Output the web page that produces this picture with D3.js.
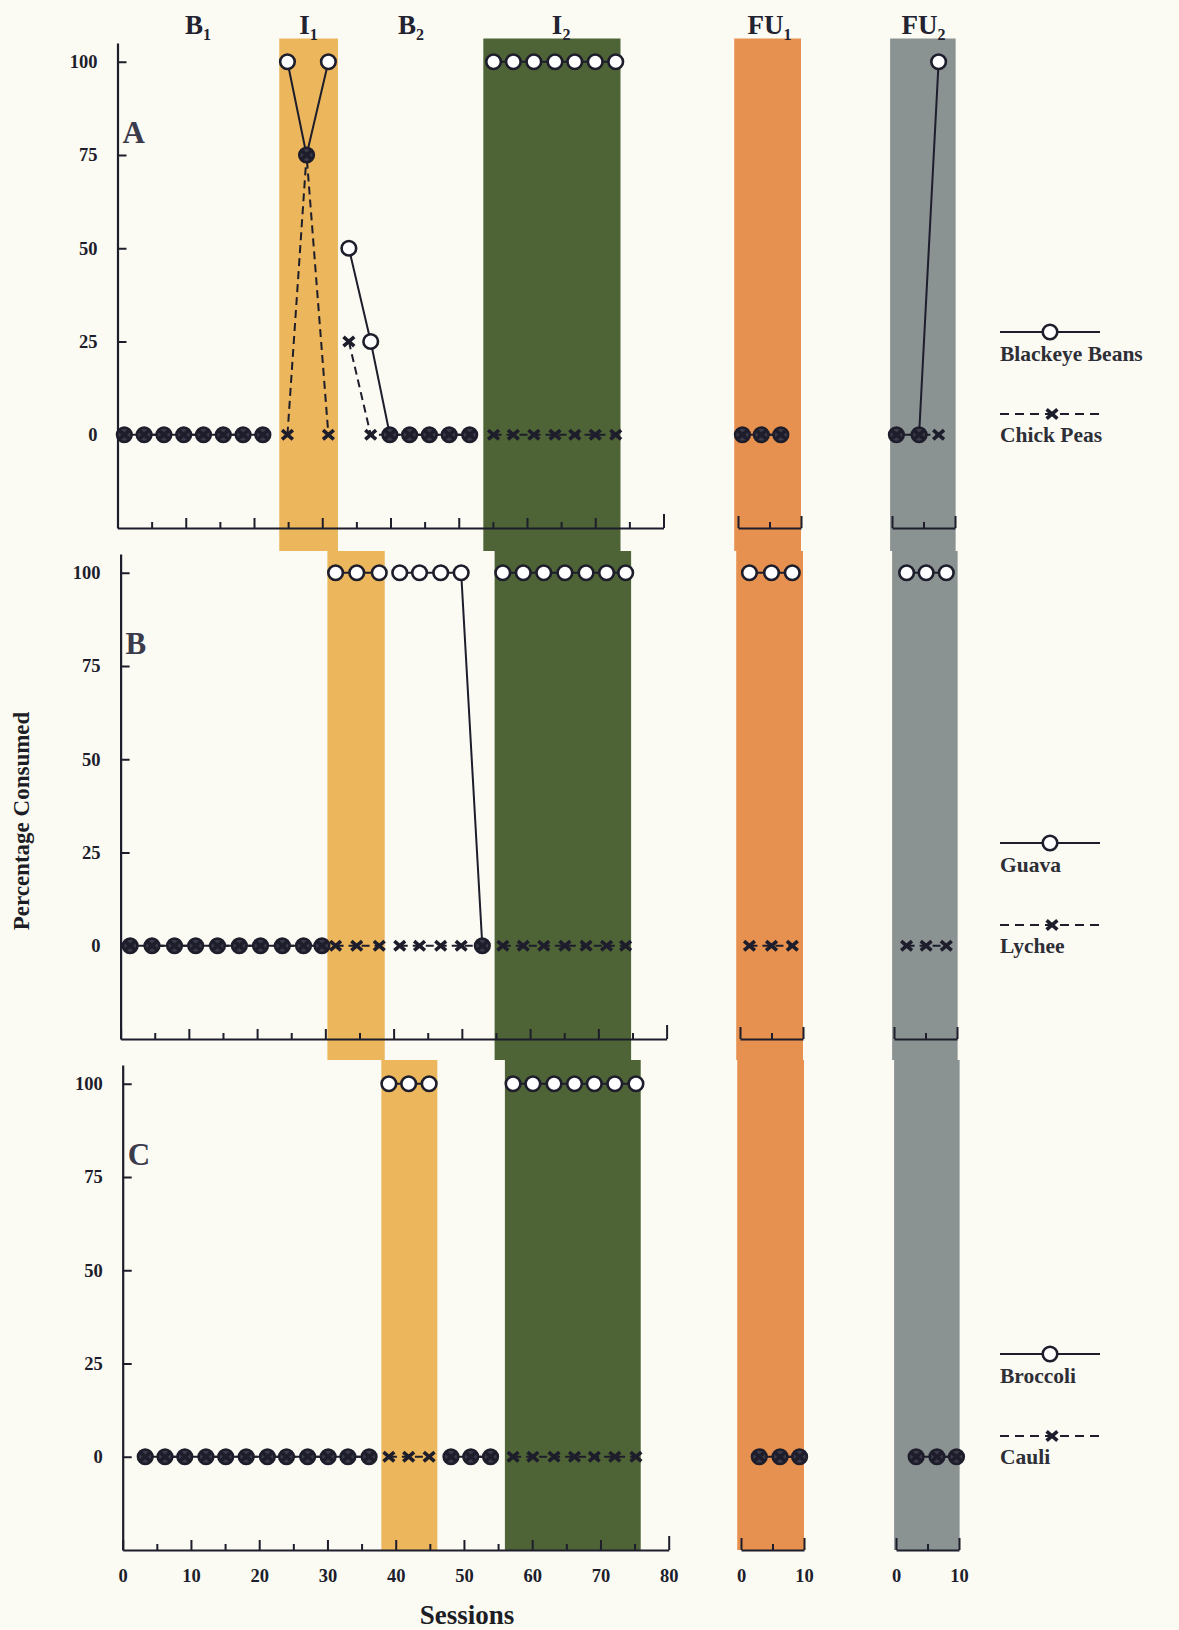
<!DOCTYPE html>
<html><head><meta charset="utf-8">
<script src="https://cdn.jsdelivr.net/npm/d3@7"></script>
<style>
html,body{margin:0;padding:0;background:#fbfbf4;}
svg{display:block;}
text{font-family:"Liberation Serif","Times New Roman",serif;font-weight:bold;}
</style></head><body>
<div id="chart"></div>
<script>
// Phases in the order they appear; each panel lists how many sessions fall in each phase.
const phaseOrder = ["B1", "I1", "B2", "I2", "FU1", "FU2"];
const phaseTitles = [["B", "1"], ["I", "1"], ["B", "2"], ["I", "2"], ["FU", "1"], ["FU", "2"]];
const phaseTitleAt = [11.8, 28.0, 43.0, 65.0, 5.0, 5.0];

// Panel A: Blackeye Beans (circles) and Chick Peas (crosses)
const countsA   = [8, 3, 7, 7, 3, 3];
const sessionsA = [1.0, 3.9, 6.8, 9.7, 12.6, 15.5, 18.4, 21.3,
                   24.9, 27.7, 30.9,
                   33.9, 37.1, 39.9, 42.8, 45.7, 48.6, 51.6,
                   55.1, 58.0, 61.0, 64.1, 67.0, 70.0, 73.0,
                   0.7, 3.7, 6.8,
                   0.7, 4.3, 7.4];
const beansA    = [0, 0, 0, 0, 0, 0, 0, 0,
                   100, 75, 100,
                   50, 25, 0, 0, 0, 0, 0,
                   100, 100, 100, 100, 100, 100, 100,
                   0, 0, 0,
                   0, 0, 100];
const chickA    = [0, 0, 0, 0, 0, 0, 0, 0,
                   0, 75, 0,
                   25, 0, 0, 0, 0, 0, 0,
                   0, 0, 0, 0, 0, 0, 0,
                   0, 0, 0,
                   0, 0, 0];
const shadeA    = [[23.7, 32.3], [53.6, 73.7]];

// Panel B: Guava (circles) and Lychee (crosses)
const countsB   = [10, 3, 5, 7, 3, 3];
const sessionsB = [1.4, 4.6, 7.9, 11.0, 14.2, 17.4, 20.5, 23.7, 26.8, 29.5,
                   31.5, 34.6, 37.9,
                   40.9, 43.8, 46.9, 49.9, 53.0,
                   56.0, 59.0, 62.0, 65.1, 68.2, 71.2, 74.0,
                   1.5, 5.0, 8.3,
                   2.0, 5.1, 8.3];
const guavaB    = [0, 0, 0, 0, 0, 0, 0, 0, 0, 0,
                   100, 100, 100,
                   100, 100, 100, 100, 0,
                   100, 100, 100, 100, 100, 100, 100,
                   100, 100, 100,
                   100, 100, 100];
const lycheeB   = [0, 0, 0, 0, 0, 0, 0, 0, 0, 0,
                   0, 0, 0,
                   0, 0, 0, 0, 0,
                   0, 0, 0, 0, 0, 0, 0,
                   0, 0, 0,
                   0, 0, 0];
const shadeB    = [[30.3, 38.7], [54.8, 74.8]];

// Panel C: Broccoli (circles) and Cauli (crosses)
const countsC   = [12, 3, 3, 7, 3, 3];
const sessionsC = [3.3, 6.2, 9.1, 12.2, 15.1, 18.1, 21.2, 24.0, 27.1, 30.1, 33.0, 36.1,
                   39.0, 41.9, 44.9,
                   48.1, 51.0, 53.9,
                   57.2, 60.1, 63.2, 66.2, 69.1, 72.1, 75.2,
                   2.9, 6.2, 9.3,
                   3.2, 6.5, 9.6];
const broccoliC = [0, 0, 0, 0, 0, 0, 0, 0, 0, 0, 0, 0,
                   100, 100, 100,
                   0, 0, 0,
                   100, 100, 100, 100, 100, 100, 100,
                   0, 0, 0,
                   0, 0, 0];
const cauliC    = [0, 0, 0, 0, 0, 0, 0, 0, 0, 0, 0, 0,
                   0, 0, 0,
                   0, 0, 0,
                   0, 0, 0, 0, 0, 0, 0,
                   0, 0, 0,
                   0, 0, 0];
const shadeC    = [[37.9, 46.1], [56.0, 75.9]];

// Follow-up shading spans on the short 0-10 session axes
const shadeFU1 = [-0.6, 10.0];
const shadeFU2 = [-0.3, 10.1];

const yTicks = [0, 25, 50, 75, 100];

// ---------------------------------------------------------------
const W = 1179, H = 1630;
const ink = "#1d1d2b";
const colors = { I1: "#ebb65c", I2: "#4f6436", FU1: "#e6914f", FU2: "#8b9292" };
const crossPath = "M-5.4,-4.6L5.4,4.6M-5.4,4.6L5.4,-4.6";

const panels = [
  { letter: "A", counts: countsA, sessions: sessionsA, circle: beansA, cross: chickA,
    circleName: "Blackeye Beans", crossName: "Chick Peas", shade: shadeA,
    axisY: 528, x0: 117.5, fu1: 738, fu2: 892, bandTop: 38.5, bandBottom: 551, labels: false },
  { letter: "B", counts: countsB, sessions: sessionsB, circle: guavaB, cross: lycheeB,
    circleName: "Guava", crossName: "Lychee", shade: shadeB,
    axisY: 1039, x0: 120.6, fu1: 740, fu2: 894, bandTop: 551, bandBottom: 1060, labels: false },
  { letter: "C", counts: countsC, sessions: sessionsC, circle: broccoliC, cross: cauliC,
    circleName: "Broccoli", crossName: "Cauli", shade: shadeC,
    axisY: 1550, x0: 122.7, fu1: 741, fu2: 896, bandTop: 1060, bandBottom: 1550, labels: true }
];

const svg = d3.select("#chart").append("svg").attr("width", W).attr("height", H);
svg.append("rect").attr("width", W).attr("height", H).attr("fill", "#fbfbf4");

panels.forEach(p => {
  p.x = d3.scaleLinear().domain([0, 80]).range([p.x0, p.x0 + 546]);
  p.xFU1 = d3.scaleLinear().domain([0, 10]).range([p.fu1, p.fu1 + 63]);
  p.xFU2 = d3.scaleLinear().domain([0, 10]).range([p.fu2, p.fu2 + 63]);
  p.y = d3.scaleLinear().domain([-25, 105]).range([p.axisY, p.axisY - 130 * 3.73]);
  p.scaleFor = ph => ph === "FU1" ? p.xFU1 : ph === "FU2" ? p.xFU2 : p.x;
  // expand phase counts into per-phase point lists
  p.groups = [];
  let k = 0;
  p.counts.forEach((n, i) => {
    const pts = d3.range(k, k + n).map(j => ({ s: p.sessions[j], c: p.circle[j], x: p.cross[j] }));
    p.groups.push({ phase: phaseOrder[i], pts });
    k += n;
  });
});

// Shaded phase bands (drawn first so axes and data sit on top)
const bands = svg.append("g");
panels.forEach(p => {
  const h = p.bandBottom - p.bandTop;
  bands.append("rect").attr("x", p.x(p.shade[0][0])).attr("width", p.x(p.shade[0][1]) - p.x(p.shade[0][0]))
    .attr("y", p.bandTop).attr("height", h).attr("fill", colors.I1);
  bands.append("rect").attr("x", p.x(p.shade[1][0])).attr("width", p.x(p.shade[1][1]) - p.x(p.shade[1][0]))
    .attr("y", p.bandTop).attr("height", h).attr("fill", colors.I2);
  bands.append("rect").attr("x", p.xFU1(shadeFU1[0])).attr("width", p.xFU1(shadeFU1[1]) - p.xFU1(shadeFU1[0]))
    .attr("y", p.bandTop).attr("height", h).attr("fill", colors.FU1);
  bands.append("rect").attr("x", p.xFU2(shadeFU2[0])).attr("width", p.xFU2(shadeFU2[1]) - p.xFU2(shadeFU2[0]))
    .attr("y", p.bandTop).attr("height", h).attr("fill", colors.FU2);
});

function styleAxis(g) {
  g.attr("color", ink);
  g.select(".domain").attr("stroke-width", 2.2);
  g.selectAll(".tick line").attr("stroke-width", 2);
  g.selectAll(".tick text").attr("font-size", 18.5).attr("font-family", null);
}

panels.forEach(p => {
  const g = svg.append("g");

  // y axis: ticks point inward, labels on the left
  g.append("g").attr("transform", `translate(${p.x0},0)`)
    .call(d3.axisLeft(p.y).tickValues(yTicks).tickSize(-9).tickSizeOuter(0).tickPadding(20))
    .call(styleAxis);

  // main session axis 0-80, major ticks every 10 and minor every 5
  const gx = g.append("g").attr("transform", `translate(0,${p.axisY})`)
    .call(d3.axisBottom(p.x).tickValues(d3.range(0, 81, 5)).tickSize(-10).tickSizeOuter(0).tickPadding(19)
      .tickFormat(d => p.labels && d % 10 === 0 ? d : ""))
    .call(styleAxis);
  gx.selectAll(".tick line").attr("y2", d => d === 80 ? -14 : d % 10 === 0 ? -10 : -6);

  // follow-up axes 0-10
  [p.xFU1, p.xFU2].forEach(sc => {
    const ga = g.append("g").attr("transform", `translate(0,${p.axisY})`)
      .call(d3.axisBottom(sc).tickValues([0, 5, 10]).tickSize(-12).tickSizeOuter(0).tickPadding(19)
        .tickFormat(d => p.labels && d !== 5 ? d : ""))
      .call(styleAxis);
    ga.selectAll(".tick line").attr("y2", d => d === 5 ? -6 : -12);
  });

  // panel letter
  g.append("text").attr("x", p.x0 + 5).attr("y", p.y(75) - 12).attr("font-size", 31)
    .attr("fill", "#3b3b4c").text(p.letter);

  // data: lines are broken at every phase change
  const dataG = g.append("g");
  p.groups.forEach(grp => {
    const xs = p.scaleFor(grp.phase);
    const lineC = d3.line().x(d => xs(d.s)).y(d => p.y(d.c));
    const lineX = d3.line().x(d => xs(d.s)).y(d => p.y(d.x));
    dataG.append("path").attr("d", lineX(grp.pts)).attr("fill", "none").attr("stroke", ink)
      .attr("stroke-width", 2).attr("stroke-dasharray", "8,5");
    dataG.append("path").attr("d", lineC(grp.pts)).attr("fill", "none").attr("stroke", ink)
      .attr("stroke-width", 2);
    // where both foods share a value the cross sits inside the circle and the marker reads as solid
    dataG.selectAll(null).data(grp.pts).join("circle")
      .attr("cx", d => xs(d.s)).attr("cy", d => p.y(d.c)).attr("r", 7.3)
      .attr("fill", d => d.c === d.x ? "#3a3a48" : "#ffffff")
      .attr("stroke", ink).attr("stroke-width", 2.6);
    dataG.selectAll(null).data(grp.pts).join("path")
      .attr("transform", d => `translate(${xs(d.s)},${p.y(d.x)})`)
      .attr("d", crossPath)
      .attr("stroke", ink).attr("stroke-width", 3.6).attr("fill", "none");
  });

  // legend
  const lg = g.append("g").attr("transform", `translate(1000,${p.axisY})`);
  lg.append("line").attr("x1", 0).attr("x2", 100).attr("y1", -196).attr("y2", -196)
    .attr("stroke", ink).attr("stroke-width", 2);
  lg.append("circle").attr("cx", 50).attr("cy", -196).attr("r", 7.3)
    .attr("fill", "#fff").attr("stroke", ink).attr("stroke-width", 2.6);
  lg.append("text").attr("x", 0).attr("y", -167).attr("font-size", 21.5).attr("fill", "#2e2e36").text(p.circleName);
  lg.append("line").attr("x1", 0).attr("x2", 100).attr("y1", -114).attr("y2", -114)
    .attr("stroke", ink).attr("stroke-width", 2).attr("stroke-dasharray", "9,6");
  lg.append("path").attr("transform", "translate(52,-114)").attr("d", crossPath)
    .attr("stroke", ink).attr("stroke-width", 3.6);
  lg.append("text").attr("x", 0).attr("y", -86).attr("font-size", 21.5).attr("fill", "#2e2e36").text(p.crossName);
});

// phase titles across the top
const topPanel = panels[0];
phaseTitles.forEach((t, i) => {
  const sc = topPanel.scaleFor(phaseOrder[i]);
  const tx = svg.append("text").attr("x", sc(phaseTitleAt[i])).attr("y", 34)
    .attr("text-anchor", "middle").attr("font-size", 27).attr("fill", "#222230");
  tx.append("tspan").text(t[0]);
  tx.append("tspan").attr("font-size", 16).attr("dy", 6).text(t[1]);
});

// axis titles
svg.append("text").attr("transform", "translate(29,821) rotate(-90)").attr("text-anchor", "middle")
  .attr("font-size", 23).attr("fill", "#1d1d25").text("Percentage Consumed");
svg.append("text").attr("x", 467).attr("y", 1624).attr("text-anchor", "middle")
  .attr("font-size", 27).attr("fill", "#1d1d25").text("Sessions");
</script>
</body></html>
